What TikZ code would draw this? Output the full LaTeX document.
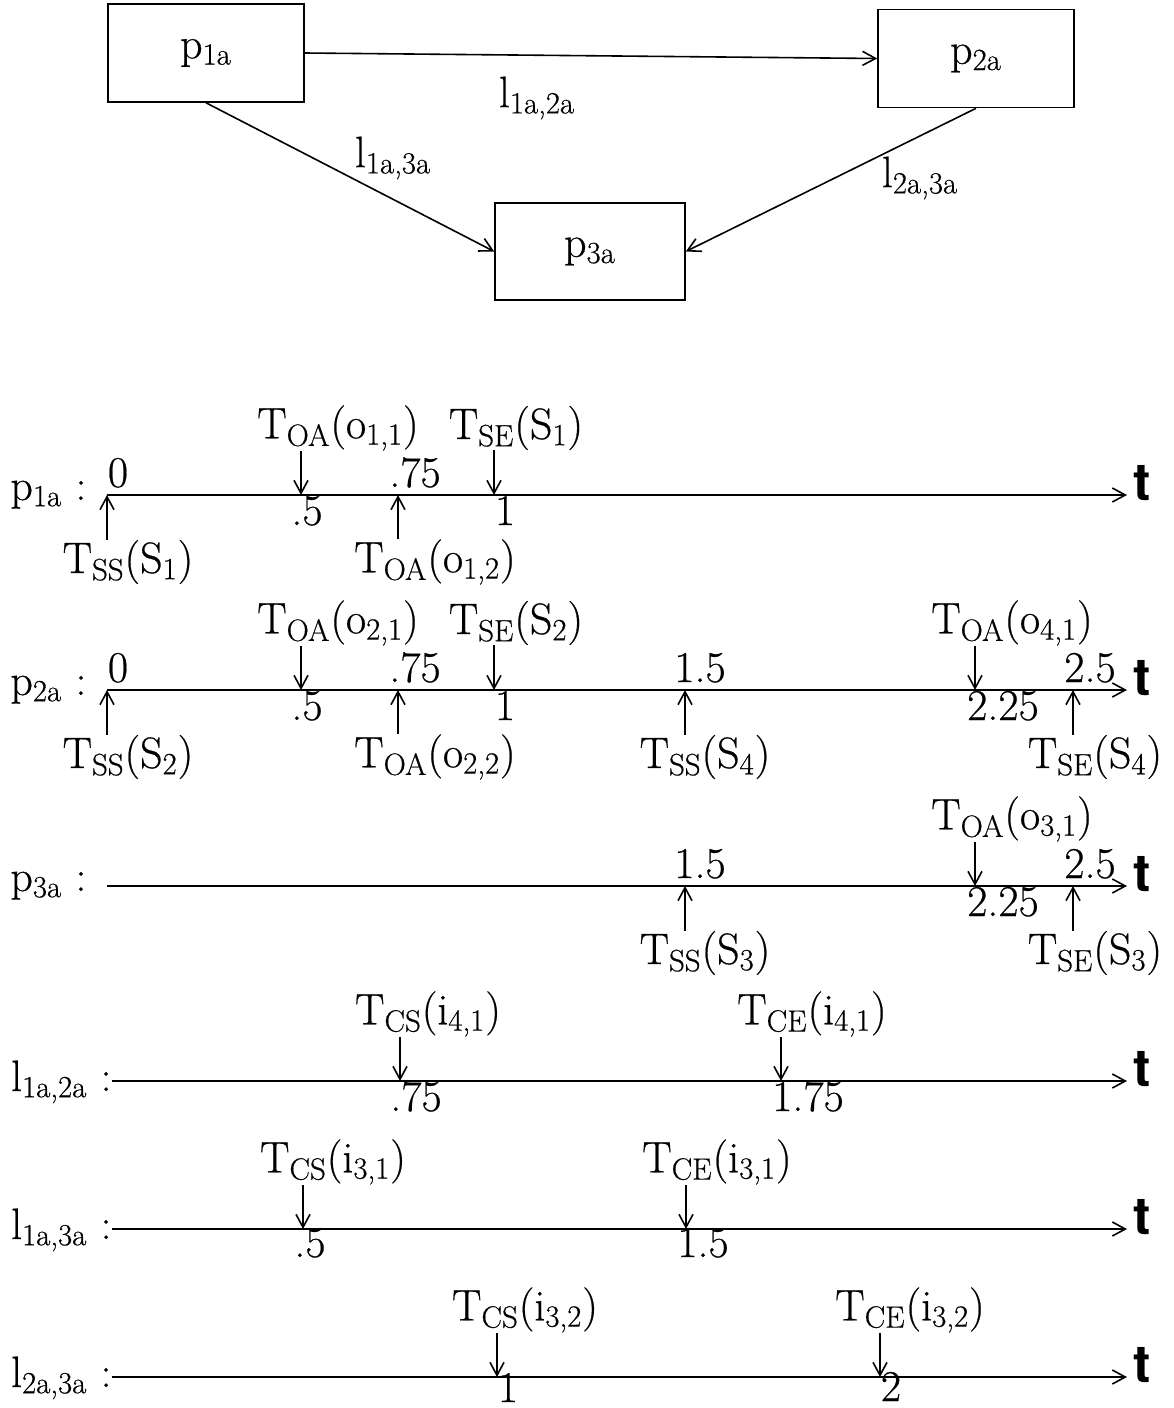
\documentclass[tikz,border=0pt]{standalone}
\usepackage{fontspec}
\setmainfont{Latin Modern Roman}[FakeBold=0.5]
\newfontfamily\axisfont{TeX Gyre Heros}
\usetikzlibrary{arrows.meta}

% event arrow pointing down onto the axis: name, axis y, tick x, label x, text
\newcommand\evdown[5]{%
  \coordinate (#1-t) at (#3,#2);
  \node[evlab] (#1) at (#4,#2-67) {#5};
  \draw[evarrow] (#1.south -| #1-t) -- (#1-t);}
% event arrow pointing up onto the axis
\newcommand\evup[5]{%
  \coordinate (#1-t) at (#3,#2);
  \node[evlab] (#1) at (#4,#2+67) {#5};
  \draw[evarrow] (#1.north -| #1-t) -- (#1-t);}
% time values above / below the axis: name, axis y, x, text
\newcommand\valabove[4]{\node[val] (#1) at (#3,#2-8) {#4};}
\newcommand\valbelow[4]{\node[val] (#1) at (#3,#2+30) {#4};}
% a time axis: name, start x, y
\newcommand\timeaxis[3]{%
  \coordinate (#1-s) at (#2,#3);
  \coordinate (#1-e) at (1127,#3);
  \draw[axisline] (#1-s) -- (#1-e);
  \node[tlab] (#1-tl) at (1133,#3+5) {t};}

\tikzset{
  tip/.style={-{Straight Barb[length=6.5pt,width=7pt,line width=0.8pt]}},
  box/.style={draw, line width=0.8pt, inner sep=0, minimum width=98pt, minimum height=49pt},
  link/.style={line width=0.8pt, tip},
  axisline/.style={line width=0.8pt, tip},
  evarrow/.style={line width=0.7pt, tip},
  evlab/.style={inner sep=0},
  val/.style={inner sep=0, anchor=base},
  tlab/.style={inner sep=0, anchor=base west, font=\fontsize{26}{30}\selectfont\axisfont\bfseries},
  rowlab/.style={inner sep=0, anchor=base west},
  rowlabl/.style={inner sep=0, anchor=base east},
}

\begin{document}
\begin{tikzpicture}[x=0.5pt, y=-0.5pt, font=\fontsize{22}{26}\selectfont]
\useasboundingbox (0,0) rectangle (1173,1408);

% processor graph
\node[box] (p1) at (206,53) {p\textsubscript{1a}};
\node[box] (p2) at (976,58.5) {p\textsubscript{2a}};
\node[box, minimum width=95pt, minimum height=48.5pt] (p3) at (590,251.5) {p\textsubscript{3a}};
\draw[link] (p1.east) -- (p2.west);
\draw[link] (p1.south) -- (p3.west);
\draw[link] (p2.south) -- (p3.east);
\node[inner sep=0] (l12) at (537,98) {l\textsubscript{1a,2a}};
\node[inner sep=0] (l13) at (393,158) {l\textsubscript{1a,3a}};
\node[inner sep=0] (l23) at (920,178) {l\textsubscript{2a,3a}};

% ---- p1a
\node[rowlab] (r1) at (10,500) {p\textsubscript{1a} :};
\timeaxis{a1}{107}{495}
\valabove{v1a}{495}{118}{0}
\valabove{v1b}{495}{415}{.75}
\valbelow{v1c}{495}{307}{.5}
\valbelow{v1d}{495}{505}{1}
\evdown{e1a}{495}{301}{338}{T\textsubscript{OA}(o\textsubscript{1,1})}
\evdown{e1b}{495}{494}{516}{T\textsubscript{SE}(S\textsubscript{1})}
\evup{e1c}{495}{107}{128}{T\textsubscript{SS}(S\textsubscript{1})}
\evup{e1d}{495}{398}{435}{T\textsubscript{OA}(o\textsubscript{1,2})}

% ---- p2a
\node[rowlab] (r2) at (10,695) {p\textsubscript{2a} :};
\timeaxis{a2}{107}{690}
\valabove{v2a}{690}{118}{0}
\valabove{v2b}{690}{415}{.75}
\valabove{v2c}{690}{700}{1.5}
\valabove{v2d}{690}{1090}{2.5}
\valbelow{v2e}{690}{307}{.5}
\valbelow{v2f}{690}{505}{1}
\valbelow{v2g}{690}{1003}{2.25}
\evdown{e2a}{690}{301}{338}{T\textsubscript{OA}(o\textsubscript{2,1})}
\evdown{e2b}{690}{494}{516}{T\textsubscript{SE}(S\textsubscript{2})}
\evdown{e2c}{690}{975}{1012}{T\textsubscript{OA}(o\textsubscript{4,1})}
\evup{e2d}{690}{107}{128}{T\textsubscript{SS}(S\textsubscript{2})}
\evup{e2e}{690}{398}{435}{T\textsubscript{OA}(o\textsubscript{2,2})}
\evup{e2f}{690}{685}{705}{T\textsubscript{SS}(S\textsubscript{4})}
\evup{e2g}{690}{1073}{1095}{T\textsubscript{SE}(S\textsubscript{4})}

% ---- p3a
\node[rowlab] (r3) at (10,891) {p\textsubscript{3a} :};
\timeaxis{a3}{107}{886}
\valabove{v3a}{886}{700}{1.5}
\valabove{v3b}{886}{1090}{2.5}
\valbelow{v3c}{886}{1003}{2.25}
\evdown{e3a}{886}{975}{1012}{T\textsubscript{OA}(o\textsubscript{3,1})}
\evup{e3b}{886}{685}{705}{T\textsubscript{SS}(S\textsubscript{3})}
\evup{e3c}{886}{1073}{1095}{T\textsubscript{SE}(S\textsubscript{3})}

% ---- l1a,2a
\node[rowlabl] (r4) at (112,1091) {l\textsubscript{1a,2a} :};
\timeaxis{a4}{112}{1081}
\valbelow{v4a}{1081}{416}{.75}
\valbelow{v4b}{1081}{808}{1.75}
\evdown{e4a}{1081}{400}{428}{T\textsubscript{CS}(i\textsubscript{4,1})}
\evdown{e4b}{1081}{781}{812}{T\textsubscript{CE}(i\textsubscript{4,1})}

% ---- l1a,3a
\node[rowlabl] (r5) at (112,1239) {l\textsubscript{1a,3a} :};
\timeaxis{a5}{112}{1229}
\node[val] (v5a) at (310,1257) {.5};
\node[val] (v5b) at (703,1257) {1.5};
\evdown{e5a}{1229}{303}{333}{T\textsubscript{CS}(i\textsubscript{3,1})}
\evdown{e5b}{1229}{686}{717}{T\textsubscript{CE}(i\textsubscript{3,1})}

% ---- l2a,3a
\node[rowlabl] (r6) at (112,1387) {l\textsubscript{2a,3a} :};
\timeaxis{a6}{112}{1377}
\node[val] (v6a) at (508,1402) {1};
\node[val] (v6b) at (891,1401) {2};
\evdown{e6a}{1377}{497}{525}{T\textsubscript{CS}(i\textsubscript{3,2})}
\evdown{e6b}{1377}{880}{910}{T\textsubscript{CE}(i\textsubscript{3,2})}
\end{tikzpicture}
\end{document}
